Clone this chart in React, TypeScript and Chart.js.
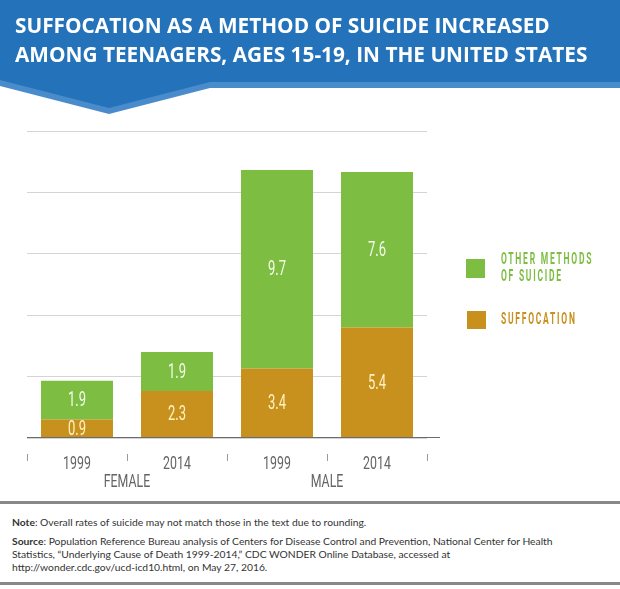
import React, { useEffect, useRef } from "react";
import { Chart, registerables } from "chart.js";

Chart.register(...registerables);

const categories = ["1999", "2014", "1999", "2014"];
const groups = ["FEMALE", "MALE"];
const suffocation = [0.9, 2.3, 3.4, 5.4];
const otherMethods = [1.9, 1.9, 9.7, 7.6];
const yMax = 15;
const yStep = 3;

const GREEN = "#7DBE42";
const GOLD = "#C8901C";
const AXIS_TEXT = "#646464";

function condText(ctx: CanvasRenderingContext2D, text: string, x: number, y: number, sx: number) {
  ctx.save();
  ctx.translate(x, y);
  ctx.scale(sx, 1);
  ctx.fillText(text, 0, 0);
  ctx.restore();
}

const labelPlugin = {
  id: "segLabels",
  afterDatasetsDraw(chart: any) {
    const ctx = chart.ctx;
    ctx.save();
    ctx.font = "21px Roboto";
    ctx.textAlign = "center";
    ctx.textBaseline = "middle";
    chart.data.datasets.forEach((ds: any, di: number) => {
      const meta = chart.getDatasetMeta(di);
      meta.data.forEach((bar: any, i: number) => {
        const v = ds.data[i];
        const cy = (bar.y + bar.base) / 2;
        ctx.fillStyle = di === 0 ? "#FFF3C4" : "#F6FBEC";
        condText(ctx, v.toFixed(1), bar.x, cy + 1, 0.62);
      });
    });
    ctx.restore();
  },
  afterDraw(chart: any) {
    const ctx = chart.ctx;
    const xs = chart.scales.x;
    const ys = chart.scales.y;
    const y0 = ys.getPixelForValue(0);
    ctx.save();
    ctx.strokeStyle = "#6b6b6b";
    ctx.lineWidth = 1;
    ctx.beginPath();
    ctx.moveTo(chart.chartArea.left, Math.round(y0) - 0.5);
    ctx.lineTo(chart.chartArea.right + 13, Math.round(y0) - 0.5);
    ctx.stroke();
    const step = xs.getPixelForValue(1) - xs.getPixelForValue(0);
    ctx.strokeStyle = "#9a9a9a";
    for (let i = 0; i <= categories.length; i++) {
      const x = Math.round(xs.getPixelForValue(0) - step / 2 + i * step) + 0.5;
      ctx.beginPath();
      ctx.moveTo(x, y0 + 16);
      ctx.lineTo(x, y0 + 23);
      ctx.stroke();
    }
    ctx.fillStyle = AXIS_TEXT;
    ctx.font = "19px Roboto";
    ctx.textAlign = "center";
    ctx.textBaseline = "alphabetic";
    categories.forEach((c, i) => {
      condText(ctx, c, xs.getPixelForValue(i), y0 + 30.5, 0.65);
    });
    const x2 = chart.scales.x2;
    groups.forEach((g, i) => {
      condText(ctx, g, x2.getPixelForValue(i), y0 + 49, 0.65);
    });
    ctx.restore();
  },
};

function BarChart() {
  const ref = useRef<HTMLCanvasElement | null>(null);
  useEffect(() => {
    if (!ref.current) return;
    const chart = new Chart(ref.current, {
      type: "bar",
      data: {
        labels: categories,
        datasets: [
          { label: "Suffocation", data: suffocation, backgroundColor: GOLD, borderWidth: 0 },
          { label: "Other methods of suicide", data: otherMethods, backgroundColor: GREEN, borderWidth: 0 },
        ],
      },
      options: {
        animation: false,
        responsive: false,
        devicePixelRatio: 1,
        layout: { padding: { left: 27, right: 193, top: 131, bottom: 62 } },
        plugins: { legend: { display: false }, tooltip: { enabled: false } },
        datasets: { bar: { categoryPercentage: 1, barPercentage: 0.72 } },
        scales: {
          x: { stacked: true, offset: true, display: false },
          x2: { type: "category", labels: groups, position: "bottom", offset: true, display: false },
          y: {
            stacked: true,
            min: 0,
            max: yMax,
            ticks: { display: false, stepSize: yStep },
            border: { display: false },
            grid: { color: "#d4d4d4", lineWidth: 1, drawTicks: false },
          },
        },
      },
      plugins: [labelPlugin],
    } as any);
    return () => chart.destroy();
  }, []);
  return <canvas ref={ref} width={620} height={500} style={{ position: "absolute", left: 0, top: 0 }} />;
}

export default function App() {
  const legendText: React.CSSProperties = {
    position: "absolute",
    fontFamily: "Roboto, sans-serif",
    fontWeight: 700,
    fontSize: 17,
    letterSpacing: 3.5,
    lineHeight: "17px",
    whiteSpace: "nowrap",
    transform: "scaleX(0.5)",
    transformOrigin: "0 0",
  };
  return (
    <div style={{ position: "fixed", left: 0, top: 0, width: 620, height: 589, background: "#fff", overflow: "hidden" }}>
      <BarChart />
      <svg width={620} height={120} style={{ position: "absolute", left: 0, top: 0 }}>
        <polygon points="0,0 620,0 620,88 210,88 109,114 0,86" fill="#4A8CCB" />
        <polygon points="0,0 620,0 620,82 210,82 109,108 0,80" fill="#2372BA" />
      </svg>
      <div
        style={{
          position: "absolute",
          left: 15,
          top: 11,
          color: "#fff",
          fontFamily: "'Open Sans', sans-serif",
          fontWeight: 700,
          fontSize: 20.8,
          lineHeight: "28.5px",
          whiteSpace: "nowrap",
        }}
      >
        <div>SUFFOCATION AS A METHOD OF SUICIDE INCREASED</div>
        <div>AMONG TEENAGERS, AGES 15-19, IN THE UNITED STATES</div>
      </div>
      <div style={{ position: "absolute", left: 466, top: 259, width: 19, height: 19, background: GREEN }} />
      <div style={{ ...legendText, left: 501, top: 250, color: GREEN }}>
        <div>OTHER METHODS</div>
        <div>OF SUICIDE</div>
      </div>
      <div style={{ position: "absolute", left: 467, top: 311, width: 19, height: 18, background: GOLD }} />
      <div style={{ ...legendText, left: 501, top: 310, color: GOLD }}>SUFFOCATION</div>
      <div style={{ position: "absolute", left: 0, top: 501, width: 620, height: 3, background: "#888" }} />
      <div style={{ position: "absolute", left: 0, top: 582, width: 620, height: 3, background: "#888" }} />
      <div
        style={{
          position: "absolute",
          left: 12,
          top: 516,
          width: 608,
          color: "#333",
          fontFamily: "Lato, 'Open Sans', sans-serif",
          fontSize: 10.3,
          lineHeight: "13px",
          whiteSpace: "nowrap",
        }}
      >
        <div style={{ marginBottom: 6 }}>
          <b>Note</b>: Overall rates of suicide may not match those in the text due to rounding.
        </div>
        <div>
          <b>Source</b>: Population Reference Bureau analysis of Centers for Disease Control and Prevention, National Center for Health
          <br />
          Statistics, “Underlying Cause of Death 1999-2014,” CDC WONDER Online Database, accessed at
          <br />
          http://wonder.cdc.gov/ucd-icd10.html, on May 27, 2016.
        </div>
      </div>
    </div>
  );
}
